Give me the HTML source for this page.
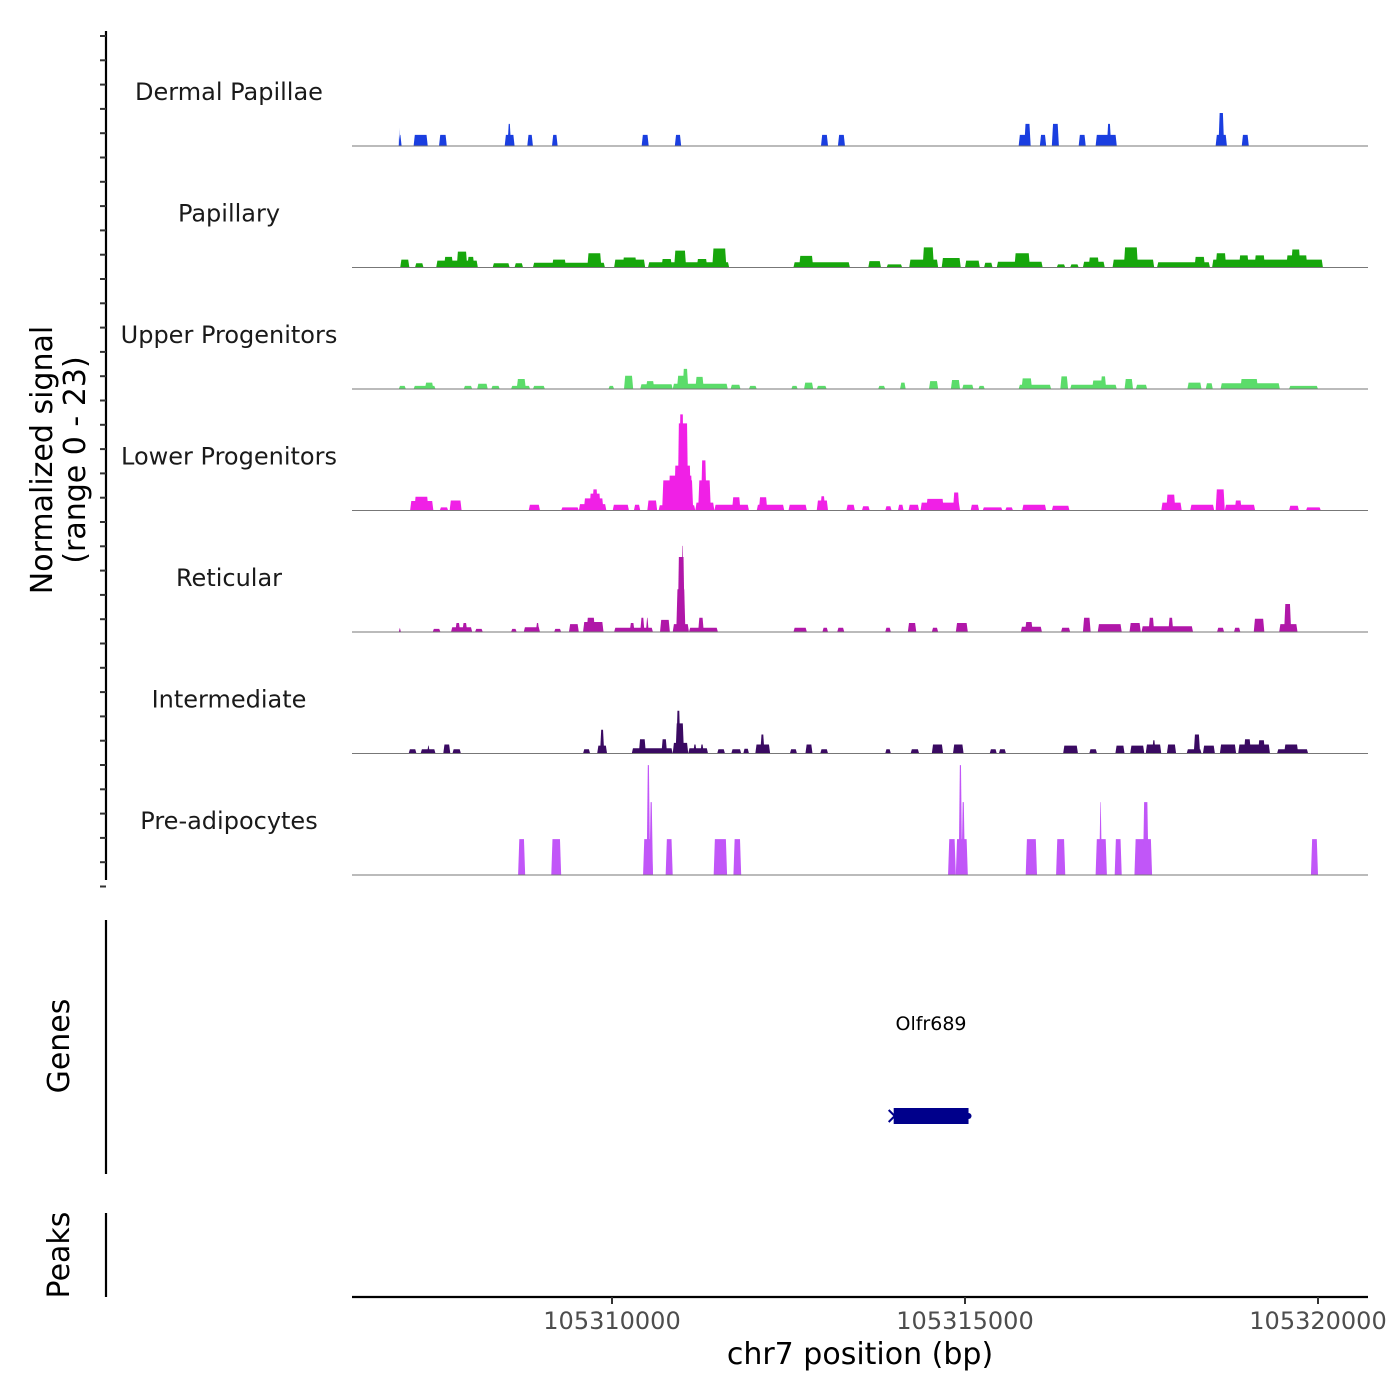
<!DOCTYPE html>
<html><head><meta charset="utf-8"><style>
html,body{margin:0;padding:0;background:#fff;}
svg{display:block;font-family:"DejaVu Sans","Liberation Sans",sans-serif;}
</style></head><body>
<svg id="chart" width="1400" height="1400" viewBox="0 0 1400 1400" xmlns="http://www.w3.org/2000/svg">
<g id="tracks"></g>
<g id="axes"></g>
</svg>
<script>
const trackNames = ["Dermal Papillae","Papillary","Upper Progenitors","Lower Progenitors","Reticular","Intermediate","Pre-adipocytes"];
const trackColors = ["#1a3ee0","#17a60c","#5bdc6a","#f020e6","#b017a8","#3a0a62","#c156f8"];
const xTicks = [105310000,105315000,105320000];
const xTickLabels = ["105310000","105315000","105320000"];
const yMax = 23;
// segments: [start kb, end kb, signal] (kb offset from 105300000)
const dermal = [[6.98,7.02,2.1],[6.98,6.99,3.4],[7.19,7.39,2.1],[7.55,7.66,2.1],[8.48,8.62,2.1],[8.52,8.57,4.2],[8.80,8.88,2.1],[9.15,9.23,2.1],[10.42,10.52,2.1],[10.89,10.98,2.1],[12.96,13.06,2.1],[13.20,13.30,2.1],[15.76,15.93,2.1],[15.84,15.93,4.2],[16.06,16.15,2.1],[16.23,16.33,4.2],[16.61,16.71,2.1],[16.85,17.15,2.1],[17.01,17.07,4.2],[18.55,18.71,2.1],[18.59,18.67,6.25],[18.92,19.02,2.1]];
const papillary = [[7.0,7.13,1.5],[7.21,7.33,0.8],[7.51,8.10,1.3],[7.62,7.75,2.0],[7.80,7.95,3.0],[7.95,8.05,2.0],[8.31,8.55,0.8],[8.62,8.74,0.8],[8.88,9.90,0.9],[9.15,9.35,1.5],[9.65,9.85,2.7],[10.03,10.47,1.5],[10.15,10.35,1.9],[10.51,11.66,1.0],[10.70,10.85,1.6],[10.88,11.05,3.2],[11.20,11.35,1.6],[11.42,11.62,3.6],[12.57,13.37,1.0],[12.65,12.85,2.2],[13.63,13.81,1.2],[13.89,14.11,0.6],[14.21,14.62,1.5],[14.40,14.56,3.8],[14.67,14.94,1.8],[15.00,15.21,1.3],[15.27,15.39,0.9],[15.45,16.10,1.1],[15.70,15.92,2.7],[16.30,16.42,0.6],[16.49,16.61,0.6],[16.67,16.98,1.1],[16.75,16.90,1.9],[17.09,17.68,1.5],[17.25,17.45,3.8],[17.72,18.47,1.0],[18.25,18.40,2.0],[18.50,20.07,1.5],[18.55,18.70,2.7],[18.88,19.02,2.3],[19.10,19.25,2.3],[19.55,19.85,2.3],[19.62,19.75,3.4]];
const upper = [[6.98,7.08,0.6],[7.19,7.50,0.6],[7.35,7.47,1.2],[7.90,8.02,0.6],[8.09,8.24,1.0],[8.29,8.41,0.6],[8.57,8.84,0.6],[8.65,8.78,1.9],[8.88,9.05,0.6],[9.95,10.03,0.6],[10.17,10.30,2.5],[10.40,10.86,0.9],[10.48,10.60,1.5],[10.86,11.64,1.0],[10.92,11.05,2.5],[11.00,11.08,3.8],[11.18,11.30,2.3],[11.68,11.82,0.8],[11.94,12.05,0.6],[12.54,12.63,0.6],[12.72,12.85,1.2],[12.90,13.04,0.6],[13.77,13.87,0.6],[14.08,14.16,1.2],[14.49,14.62,1.5],[14.80,14.93,1.7],[14.96,15.12,0.8],[15.19,15.28,0.6],[15.76,16.22,0.8],[15.80,15.95,2.0],[16.35,16.46,2.4],[16.49,17.15,0.8],[16.80,17.00,1.6],[16.92,17.00,2.4],[17.26,17.38,1.9],[17.42,17.58,0.8],[18.15,18.35,1.2],[18.41,18.51,1.1],[18.62,19.46,1.1],[18.90,19.15,1.9],[19.59,20.00,0.6]];
const lower = [[7.14,7.47,1.8],[7.20,7.40,2.6],[7.56,7.68,0.6],[7.70,7.87,1.9],[8.82,8.98,1.1],[9.28,9.53,0.6],[9.53,9.92,1.2],[9.60,9.88,2.3],[9.68,9.84,3.2],[9.72,9.80,4.0],[10.01,10.24,1.1],[10.31,10.40,1.1],[10.50,10.64,1.9],[10.66,11.18,1.0],[10.71,11.15,5.7],[10.80,11.14,6.6],[10.88,11.12,8.5],[10.93,11.08,16.5],[10.95,11.02,18.2],[11.18,11.45,1.5],[11.22,11.40,5.7],[11.26,11.34,9.5],[11.45,11.94,1.1],[11.70,11.82,2.5],[12.05,12.44,1.1],[12.08,12.20,2.5],[12.50,12.76,1.1],[12.90,13.06,1.9],[12.95,13.02,2.7],[13.32,13.44,1.1],[13.54,13.65,0.8],[13.87,13.96,0.8],[14.05,14.13,1.1],[14.20,14.35,1.1],[14.37,14.93,1.5],[14.45,14.70,2.2],[14.83,14.92,3.4],[15.08,15.20,1.1],[15.25,15.53,0.6],[15.57,15.68,0.6],[15.81,16.15,1.1],[16.23,16.48,0.9],[17.78,18.07,1.5],[17.85,17.98,3.0],[18.19,18.53,1.1],[18.55,18.68,4.0],[18.68,19.11,1.1],[18.82,18.92,1.9],[19.59,19.73,0.9],[19.83,20.04,0.6]];
const reticular = [[6.98,7.01,0.8],[7.46,7.57,0.6],[7.72,8.02,0.9],[7.78,7.85,1.7],[7.88,7.95,1.7],[8.06,8.17,0.6],[8.57,8.65,0.6],[8.75,8.98,0.9],[8.92,8.97,1.7],[9.18,9.28,0.6],[9.39,9.53,1.5],[9.59,9.88,1.9],[9.64,9.76,2.7],[10.03,10.58,0.8],[10.25,10.32,1.7],[10.40,10.46,2.7],[10.48,10.52,2.7],[10.68,10.82,2.3],[10.86,11.09,1.5],[10.91,11.04,8.1],[10.93,11.03,14.2],[10.98,11.02,16.3],[11.09,11.50,0.8],[11.22,11.30,2.7],[12.57,12.76,0.8],[12.98,13.06,0.8],[13.19,13.29,0.8],[13.87,13.95,0.8],[14.19,14.31,1.7],[14.53,14.62,0.8],[14.87,15.04,1.7],[15.79,16.09,1.0],[15.85,15.96,1.9],[16.36,16.49,0.8],[16.67,16.78,2.7],[16.88,17.22,1.5],[17.33,17.49,1.7],[17.50,18.23,1.1],[17.60,17.68,2.7],[17.88,17.95,2.7],[18.57,18.67,0.8],[18.81,18.90,0.8],[19.09,19.24,2.5],[19.45,19.71,1.5],[19.52,19.62,5.3]];
const intermediate = [[7.12,7.23,0.8],[7.29,7.50,0.8],[7.38,7.42,1.5],[7.61,7.71,1.7],[7.74,7.86,0.8],[9.59,9.69,0.8],[9.79,9.93,1.5],[9.83,9.89,4.5],[10.28,10.86,1.0],[10.38,10.48,2.7],[10.70,10.78,2.7],[10.86,11.08,2.0],[10.90,11.02,5.7],[10.91,10.97,8.1],[11.08,11.36,1.0],[11.15,11.20,1.7],[11.25,11.30,1.7],[11.49,11.60,0.8],[11.69,11.83,0.8],[11.86,11.94,0.9],[12.03,12.24,1.7],[12.10,12.16,3.6],[12.52,12.62,0.8],[12.74,12.84,1.7],[12.95,13.06,0.8],[13.87,13.95,0.8],[14.23,14.35,0.8],[14.53,14.69,1.7],[14.83,14.98,1.7],[15.35,15.45,0.8],[15.48,15.58,0.8],[16.39,16.60,1.5],[16.76,16.87,0.8],[17.13,17.26,1.5],[17.34,17.54,1.5],[17.56,17.78,1.7],[17.65,17.70,2.5],[17.86,17.99,1.7],[18.14,18.35,0.8],[18.24,18.33,3.6],[18.37,18.54,1.5],[18.61,18.84,1.7],[18.87,19.32,1.7],[18.95,19.05,2.7],[19.15,19.25,2.5],[19.42,19.86,0.8],[19.52,19.72,1.7]];
const preadipocytes = [[8.67,8.77,6.8],[9.14,9.28,6.8],[10.44,10.58,6.8],[10.53,10.58,13.8],[10.49,10.54,20.8],[10.76,10.86,6.8],[11.44,11.63,6.8],[11.72,11.83,6.8],[14.76,14.87,6.8],[14.87,15.04,6.8],[14.95,15.00,13.8],[14.91,14.96,20.8],[15.86,16.02,6.8],[16.29,16.42,6.8],[16.85,17.01,6.8],[16.90,16.94,13.8],[17.12,17.22,6.8],[17.40,17.65,6.8],[17.52,17.60,13.8],[19.90,20.00,6.8]];
const trackData = [dermal,papillary,upper,lower,reticular,intermediate,preadipocytes];

const NS = "http://www.w3.org/2000/svg";
const plotL = 352, plotR = 1368;
const bpRef = 105310000, pxRef = 612, pxPerBp = 353/5000;
function xScale(bp){ return pxRef + (bp - bpRef) * pxPerBp; }
function kbX(kb){ return xScale(105300000 + kb * 1000); }
const trackTop = 24.5, trackH = 121.5;
function baseY(i){ return trackTop + (i + 1) * trackH; }
function yScale(i, v){ return baseY(i) - v / yMax * trackH; }
function mk(tag, attrs, parent){ const e = document.createElementNS(NS, tag); for (const k in attrs) e.setAttribute(k, attrs[k]); parent.appendChild(e); return e; }

const gT = document.getElementById('tracks');
const gA = document.getElementById('axes');
trackData.forEach((segs, i) => {
  const g = mk('g', {}, gT);
  
  
  const lab = mk('text', {x: 229, y: baseY(i) - 46, 'text-anchor': 'middle', 'font-size': 24, fill: '#1a1a1a'}, g);
  lab.textContent = trackNames[i];
  
  
  segs.forEach(s => {
    const x0 = kbX(s[0]), x1 = kbX(s[1]), yb = baseY(i), yt = yScale(i, s[2]);
    const slope = Math.min(1.2, (x1 - x0) / 2);
    const p = mk('polygon', {points: `${x0},${yb} ${x0 + slope},${yt} ${x1 - slope},${yt} ${x1},${yb}`, fill: trackColors[i]}, g);
    
    
  });
  const bl = mk('line', {x1: plotL, x2: plotR, y1: baseY(i), y2: baseY(i), stroke: '#777', 'stroke-width': 1}, g);
  
  
});

// left coverage axis
const ya = mk('line', {x1: 106, x2: 106, y1: 31, y2: 880, stroke: '#000', 'stroke-width': 2.2}, gA);


for (let k = 0; k < 36; k++) {
  const y = 36 + k * 24.3;
  const t = mk('line', {x1: 100, x2: 106, y1: y, y2: y, stroke: '#333', 'stroke-width': 2}, gA);
  
  
}
const yt = mk('text', {transform: 'translate(52,460) rotate(-90)', 'text-anchor': 'middle', 'font-size': 30, fill: '#000'}, gA);


const ts1 = mk('tspan', {x: 0, dy: 0}, yt); ts1.textContent = 'Normalized signal';
const ts2 = mk('tspan', {x: 0, dy: 33}, yt); ts2.textContent = '(range 0 - 23)';

// genes panel
const ga = mk('line', {x1: 106, x2: 106, y1: 920, y2: 1174, stroke: '#000', 'stroke-width': 2.2}, gA);


const gl = mk('text', {transform: 'translate(69,1046) rotate(-90)', 'text-anchor': 'middle', 'font-size': 30, fill: '#000'}, gA);
gl.textContent = 'Genes';


const geneStart = 105313990, geneEnd = 105315050;
const gr = mk('rect', {x: xScale(geneStart), y: 1108, width: xScale(geneEnd) - xScale(geneStart), height: 16, fill: '#00008b'}, gA);


const garr = mk('path', {d: `M${xScale(geneStart)-5},1110 l6,6 l-6,6`, stroke: '#00008b', 'stroke-width': 2, fill: 'none'}, gA);


const gdot = mk('circle', {cx: xScale(geneEnd), cy: 1116, r: 3, fill: '#00008b'}, gA);


const gtx = mk('text', {x: 931, y: 1030, 'text-anchor': 'middle', 'font-size': 19, fill: '#000'}, gA);
gtx.textContent = 'Olfr689';



// peaks panel
const pa = mk('line', {x1: 106, x2: 106, y1: 1213, y2: 1297, stroke: '#000', 'stroke-width': 2.2}, gA);


const pl = mk('text', {transform: 'translate(69,1255) rotate(-90)', 'text-anchor': 'middle', 'font-size': 30, fill: '#000'}, gA);
pl.textContent = 'Peaks';



// x axis
const xa = mk('line', {x1: plotL, x2: plotR, y1: 1297, y2: 1297, stroke: '#000', 'stroke-width': 2.2}, gA);


xTicks.forEach((b, k) => {
  const t = mk('line', {x1: xScale(b), x2: xScale(b), y1: 1297, y2: 1304, stroke: '#333', 'stroke-width': 2}, gA);
  
  
  const l = mk('text', {x: xScale(b), y: 1329, 'text-anchor': 'middle', 'font-size': 24, fill: '#4d4d4d'}, gA);
  l.textContent = xTickLabels[k];
  
  
});
const xt = mk('text', {x: 860, y: 1364, 'text-anchor': 'middle', 'font-size': 30, fill: '#000'}, gA);
xt.textContent = 'chr7 position (bp)';


</script>
</body></html>
